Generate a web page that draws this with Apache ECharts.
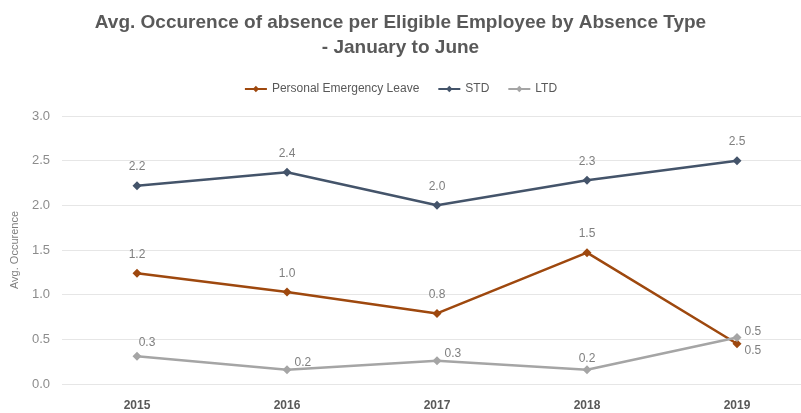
<!DOCTYPE html>
<html>
<head>
<meta charset="utf-8">
<script src="https://cdn.jsdelivr.net/npm/echarts@6/dist/echarts.min.js"></script>
<style>
  html, body { margin: 0; padding: 0; background: #fff; }
  #chart { width: 801px; height: 413px; }
</style>
</head>
<body>
<div id="chart"></div>
<script>
const years = ['2015', '2016', '2017', '2018', '2019'];
const pel = [1.24, 1.03, 0.79, 1.47, 0.45];
const std = [2.22, 2.37, 2.0, 2.28, 2.5];
const ltd = [0.31, 0.16, 0.26, 0.16, 0.52];

// label placement per point (above / right)
const ltdPos = ['top', 'right', 'right', 'top', 'right'];
const pelPos = ['top', 'top', 'top', 'top', 'right'];

const font = '"Liberation Sans", sans-serif';
const labelStyle = {
  show: true,
  color: '#7f7f7f',
  fontFamily: font,
  fontSize: 12,
  formatter: p => p.value.toFixed(1)
};

function points(values, pos, offsets, dist) {
  return values.map((v, i) => ({
    value: v,
    label: {
      position: pos ? pos[i] : 'top',
      distance: dist ? dist[i] : 8,
      offset: offsets ? offsets[i] : [0, 0]
    }
  }));
}

const chart = echarts.init(document.getElementById('chart'));
const option = {
  animation: false,
  title: {
    text: 'Avg. Occurence of absence per Eligible Employee by Absence Type\n- January to June',
    left: 'center',
    top: 5,
    textStyle: {
      color: '#595959',
      fontFamily: font,
      fontWeight: 'bold',
      fontSize: 19,
      lineHeight: 25
    }
  },
  legend: {
    top: 78,
    left: 'center',
    itemWidth: 22,
    itemHeight: 8,
    itemGap: 18,
    textStyle: { color: '#595959', fontFamily: font, fontSize: 12 },
    data: ['Personal Emergency Leave', 'STD', 'LTD']
  },
  grid: {
    left: 62,
    width: 750,
    top: 116,
    bottom: 29,
    outerBoundsMode: 'none',
    containLabel: false
  },
  xAxis: {
    type: 'category',
    data: years,
    axisLine: { show: false },
    axisTick: { show: false },
    axisLabel: { color: '#595959', fontWeight: 'bold', fontFamily: font, fontSize: 12, margin: 16 }
  },
  yAxis: {
    type: 'value',
    min: 0,
    max: 3,
    interval: 0.5,
    name: 'Avg. Occurence',
    nameLocation: 'middle',
    nameGap: 42,
    nameTextStyle: { color: '#7f7f7f', fontFamily: font, fontSize: 11 },
    axisLabel: { color: '#8c8c8c', fontFamily: font, fontSize: 13, margin: 12, formatter: v => v.toFixed(1) },
    splitLine: { lineStyle: { color: '#e6e6e6', width: 1 } }
  },
  series: [
    {
      name: 'Personal Emergency Leave',
      type: 'line',
      data: points(pel, pelPos, [[0, 0], [0, 0], [0, 0], [0, 0], [-5, 7]]),
      symbol: 'diamond',
      symbolSize: 9,
      lineStyle: { color: '#9e480e', width: 2.5 },
      itemStyle: { color: '#9e480e' },
      label: labelStyle
    },
    {
      name: 'STD',
      type: 'line',
      data: points(std),
      symbol: 'diamond',
      symbolSize: 9,
      lineStyle: { color: '#44546a', width: 2.5 },
      itemStyle: { color: '#44546a' },
      label: labelStyle
    },
    {
      name: 'LTD',
      type: 'line',
      data: points(ltd, ltdPos, [[10, 0], [-5, -7], [-5, -7], [0, 0], [-5, -6]], [3, 8, 8, 1, 8]),
      symbol: 'diamond',
      symbolSize: 9,
      lineStyle: { color: '#a5a5a5', width: 2.5 },
      itemStyle: { color: '#a5a5a5' },
      label: labelStyle
    }
  ]
};
chart.setOption(option);
</script>
</body>
</html>
